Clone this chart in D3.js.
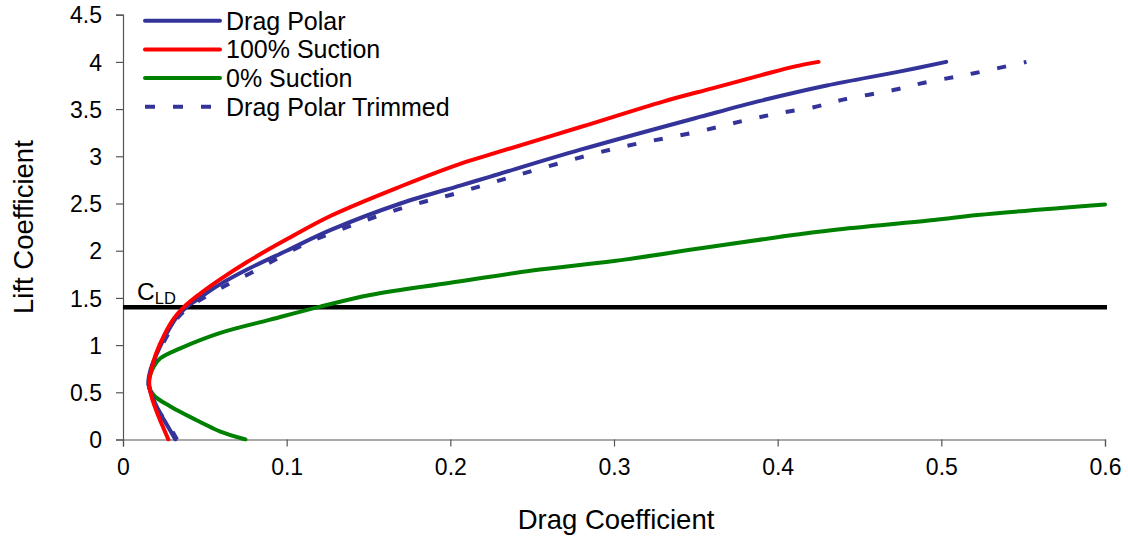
<!DOCTYPE html>
<html>
<head>
<meta charset="utf-8">
<script src="https://cdn.jsdelivr.net/npm/d3@7"></script>
<style>
  html, body { margin: 0; padding: 0; background: #fff; }
  svg { display: block; font-family: "Liberation Sans", Arial, sans-serif; }
</style>
</head>
<body>
<svg id="chart" width="1128" height="539"></svg>
<script>
// Drag polar data: [drag coefficient, lift coefficient]
const dragPolar = [
  [0.032, 0], [0.027, 0.15], [0.022, 0.3], [0.018, 0.45], [0.0155, 0.6],
  [0.017, 0.75], [0.0205, 0.9], [0.026, 1.1], [0.033, 1.3], [0.040, 1.42],
  [0.0452, 1.48], [0.058, 1.63], [0.0758, 1.8], [0.10, 2.0], [0.127, 2.22],
  [0.1695, 2.5], [0.206, 2.69], [0.2245, 2.785], [0.2795, 3.07], [0.353, 3.42],
  [0.39, 3.59], [0.43, 3.75], [0.475, 3.9], [0.503, 4.0]
];
const suction100 = [
  [0.0277, 0], [0.024, 0.15], [0.0205, 0.3], [0.0175, 0.45], [0.016, 0.6],
  [0.0175, 0.75], [0.020, 0.9], [0.025, 1.1], [0.031, 1.28], [0.037, 1.40],
  [0.046, 1.53], [0.058, 1.68], [0.0758, 1.88], [0.10, 2.12], [0.127, 2.37],
  [0.1695, 2.68], [0.206, 2.92], [0.2245, 3.02], [0.2795, 3.31], [0.33, 3.58],
  [0.36, 3.72], [0.39, 3.86], [0.41, 3.95], [0.425, 4.0]
];
const suction0 = [
  [0.0748, 0], [0.0595, 0.083], [0.049, 0.17], [0.029, 0.35], [0.0187, 0.47],
  [0.0157, 0.595], [0.0187, 0.77], [0.0228, 0.86], [0.035, 0.966], [0.0595, 1.13],
  [0.090, 1.27], [0.1206, 1.407], [0.151, 1.53], [0.20, 1.66], [0.25, 1.79],
  [0.30, 1.89], [0.353, 2.025], [0.4018, 2.148], [0.434, 2.22], [0.4955, 2.325],
  [0.522, 2.378], [0.6, 2.49]
];
const dragPolarTrimmed = [
  [0.033, 0], [0.028, 0.15], [0.022, 0.3], [0.018, 0.45], [0.0155, 0.6],
  [0.017, 0.75], [0.021, 0.9], [0.027, 1.1], [0.034, 1.3], [0.042, 1.42],
  [0.0595, 1.6], [0.0798, 1.78], [0.110, 2.06], [0.143, 2.29], [0.176, 2.48],
  [0.200, 2.59], [0.241, 2.80], [0.300, 3.08], [0.351, 3.26], [0.385, 3.40],
  [0.402, 3.46], [0.422, 3.52], [0.44, 3.60], [0.473, 3.71], [0.487, 3.77],
  [0.508, 3.84], [0.52, 3.88], [0.552, 4.0]
];
const designLift = 1.4;

const xTicks = [0, 0.1, 0.2, 0.3, 0.4, 0.5, 0.6];
const yTicks = [0, 0.5, 1, 1.5, 2, 2.5, 3, 3.5, 4, 4.5];

const seriesNames = ["Drag Polar", "100% Suction", "0% Suction", "Drag Polar Trimmed"];
const seriesColors = ["#333399", "#ff0000", "#008000", "#333399"];
const seriesDash = [null, null, null, "9,18"];
const seriesData = [dragPolar, suction100, suction0, dragPolarTrimmed];

const svg = d3.select("#chart");
const plotLeft = 123, plotRight = 1105, plotTop = 14.7, plotBottom = 439.5;

const x = d3.scaleLinear().domain([0, 0.6]).range([plotLeft, plotRight]);
const y = d3.scaleLinear().domain([0, 4.5]).range([plotBottom, plotTop]);

svg.append("defs").append("clipPath").attr("id", "plotClip")
  .append("rect").attr("x", plotLeft).attr("y", 0)
  .attr("width", plotRight - plotLeft + 2).attr("height", plotBottom + 2);

// Axes
const xAxis = svg.append("g").attr("transform", `translate(0,${plotBottom})`)
  .call(d3.axisBottom(x).tickValues(xTicks).tickSize(7).tickPadding(12)
    .tickFormat(d => d3.format("~g")(d)));
const yAxis = svg.append("g").attr("transform", `translate(${plotLeft},0)`)
  .call(d3.axisLeft(y).tickValues(yTicks).tickSize(7).tickPadding(14)
    .tickFormat(d => d3.format("~g")(d)));
[xAxis, yAxis].forEach(g => {
  g.select(".domain").attr("stroke", "#555").attr("stroke-width", 1.2);
  g.selectAll(".tick line").attr("stroke", "#555").attr("stroke-width", 1.2);
  g.selectAll(".tick text").attr("fill", "#000").attr("font-size", 23)
    .attr("font-family", "Liberation Sans, Arial, sans-serif");
});
yAxis.selectAll(".tick text").attr("dy", "0.36em");

// Axis titles
svg.append("text").attr("x", (plotLeft + plotRight) / 2 + 2).attr("y", 529)
  .attr("text-anchor", "middle").attr("font-size", 27.5).text("Drag Coefficient");
svg.append("text")
  .attr("transform", `translate(33,${(plotTop + plotBottom) / 2}) rotate(-90)`)
  .attr("text-anchor", "middle").attr("font-size", 27.5).text("Lift Coefficient");

// Design lift coefficient line
svg.append("line")
  .attr("x1", x(0)).attr("x2", x(0.6) + 2)
  .attr("y1", y(designLift)).attr("y2", y(designLift))
  .attr("stroke", "#000").attr("stroke-width", 4.5);
const cld = svg.append("text").attr("x", 137).attr("y", 299.5).attr("font-size", 24.5);
cld.append("tspan").text("C");
cld.append("tspan").attr("font-size", 16.5).attr("dy", 4).text("LD");

// Curves
const line = d3.line().x(d => x(d[0])).y(d => y(d[1])).curve(d3.curveCatmullRom.alpha(0.5));
const plot = svg.append("g").attr("clip-path", "url(#plotClip)");
[2, 0, 3, 1].forEach(i => {
  plot.append("path")
    .datum(seriesData[i])
    .attr("d", line)
    .attr("fill", "none")
    .attr("stroke", seriesColors[i])
    .attr("stroke-width", 4)
    .attr("stroke-linejoin", "round")
    .attr("stroke-linecap", seriesDash[i] ? "butt" : "round")
    .attr("stroke-dasharray", seriesDash[i]);
});

// Legend
const legend = svg.append("g");
seriesNames.forEach((name, i) => {
  const ly = 20.7 + i * 28.7;
  legend.append("line")
    .attr("x1", 145).attr("x2", 220).attr("y1", ly).attr("y2", ly)
    .attr("stroke", seriesColors[i]).attr("stroke-width", 4)
    .attr("stroke-linecap", seriesDash[i] ? "butt" : "round")
    .attr("stroke-dasharray", seriesDash[i] ? "10,18" : null);
  legend.append("text").attr("x", 226).attr("y", ly + 9)
    .attr("font-size", 25).text(name);
});
</script>
</body>
</html>
